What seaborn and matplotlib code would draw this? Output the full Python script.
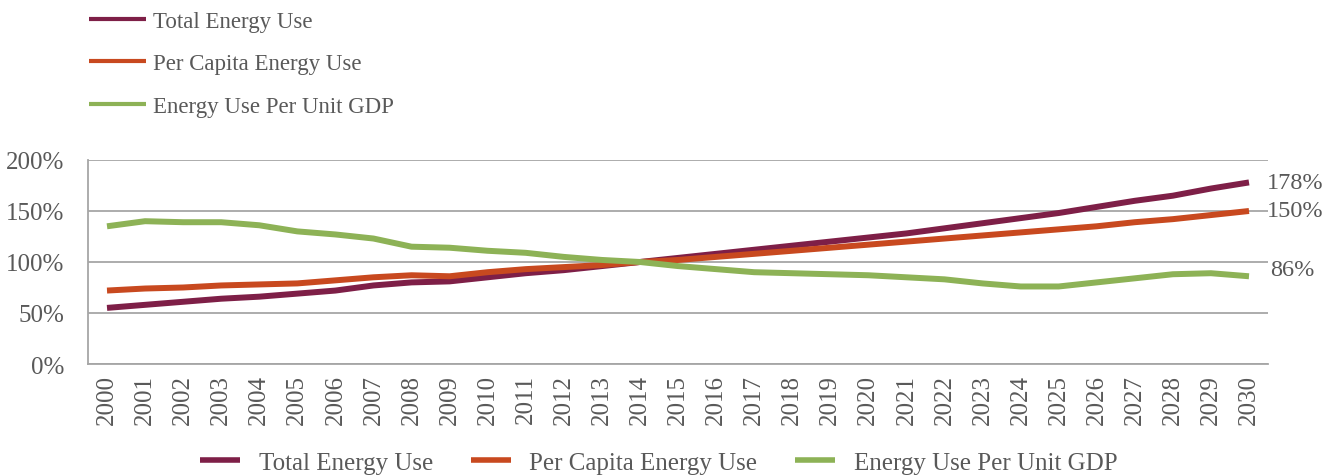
import pandas as pd
import matplotlib.pyplot as plt
import seaborn as sns
from matplotlib.lines import Line2D

years = [str(y) for y in range(2000, 2031)]
total_use = [55, 58, 61, 64, 66, 69, 72, 77, 80, 81, 85, 89, 92, 96, 100, 104,
             108, 112, 116, 120, 124, 128, 133, 138, 143, 148, 154, 160, 165, 172, 178]
per_capita = [72, 74, 75, 77, 78, 79, 82, 85, 87, 86, 90, 93, 95, 97, 100, 102,
              105, 108, 111, 114, 117, 120, 123, 126, 129, 132, 135, 139, 142, 146, 150]
per_gdp = [135, 140, 139, 139, 136, 130, 127, 123, 115, 114, 111, 109, 105, 102, 100, 96,
           93, 90, 89, 88, 87, 85, 83, 79, 76, 76, 80, 84, 88, 89, 86]
series_names = ['Total Energy Use', 'Per Capita Energy Use', 'Energy Use Per Unit GDP']
colors = ['#7E1F47', '#C8491F', '#8DB256']

df = pd.DataFrame({'Year': years, series_names[0]: total_use,
                   series_names[1]: per_capita, series_names[2]: per_gdp})
long_df = df.melt(id_vars='Year', var_name='Series', value_name='Value')

sns.set_style('white')
plt.rcParams['font.family'] = ['Liberation Serif', 'DejaVu Serif']
grey = '#595959'

fig = plt.figure(figsize=(13.39, 4.77), dpi=100)
ax = fig.add_axes([0.0657, 0.2348, 0.8813, 0.4277])

sns.lineplot(data=long_df, x='Year', y='Value', hue='Series', hue_order=series_names,
             palette=colors, linewidth=4.3, legend=False, ax=ax, sort=False,
             solid_capstyle='butt')

ax.set_xlim(-0.5, 30.5)
ax.set_ylim(0, 200)
ax.set_yticks([0, 50, 100, 150, 200])
ax.set_yticklabels([f'{v}%' for v in [0, 50, 100, 150, 200]])
ax.set_xticks(range(len(years)))
ax.set_xticklabels(years, rotation=90)
ax.set_xticks([i - 0.5 for i in range(len(years) + 1)], minor=True)
ax.tick_params(axis='x', which='major', length=0, labelsize=18, labelcolor=grey, pad=7)
ax.tick_params(axis='x', which='minor', length=6, width=1.2, color='#A6A6A6', direction='out')
ax.tick_params(axis='y', length=5, width=1.2, color='#A6A6A6', labelsize=18, labelcolor=grey, pad=12)
ax.grid(axis='y', color='#A6A6A6', linewidth=1.3)
ax.set_axisbelow(True)
for side in ['top', 'right']:
    ax.spines[side].set_visible(False)
for side in ['left', 'bottom']:
    ax.spines[side].set_color('#A6A6A6')
    ax.spines[side].set_linewidth(1.3)
ax.set_xlabel('')
ax.set_ylabel('')

# end-of-line value labels
ax.annotate(f'{total_use[-1]}%', (30, total_use[-1]), xytext=(13, 0), textcoords='offset points',
            va='center', fontsize=17.5, color=grey, annotation_clip=False)
ax.annotate(f'{per_capita[-1]}%', (30, per_capita[-1]), xytext=(13, 0), textcoords='offset points',
            va='center', fontsize=17.5, color=grey, annotation_clip=False)
ax.annotate(f'{per_gdp[-1]}%', (30, per_gdp[-1]), xytext=(15, 5), textcoords='offset points',
            va='center', fontsize=17.5, color=grey, annotation_clip=False)

# top legend
top_handles = [Line2D([], [], color=c, linewidth=3, solid_capstyle='butt') for c in colors]
fig.legend(top_handles, series_names, loc='upper left', bbox_to_anchor=(0.051, 1.019),
           frameon=False, fontsize=16.5, handlelength=2.5, handletextpad=0.3,
           labelspacing=0.95, labelcolor=grey)

# bottom legend
bot_handles = [Line2D([], [], color=c, linewidth=4, solid_capstyle='butt') for c in colors]
fig.legend(bot_handles, series_names, loc='lower center', bbox_to_anchor=(0.492, -0.043),
           ncol=3, frameon=False, fontsize=18, handlelength=1.6, handletextpad=0.75,
           columnspacing=1.5, labelcolor=grey)

plt.savefig('out.png', dpi=100)
